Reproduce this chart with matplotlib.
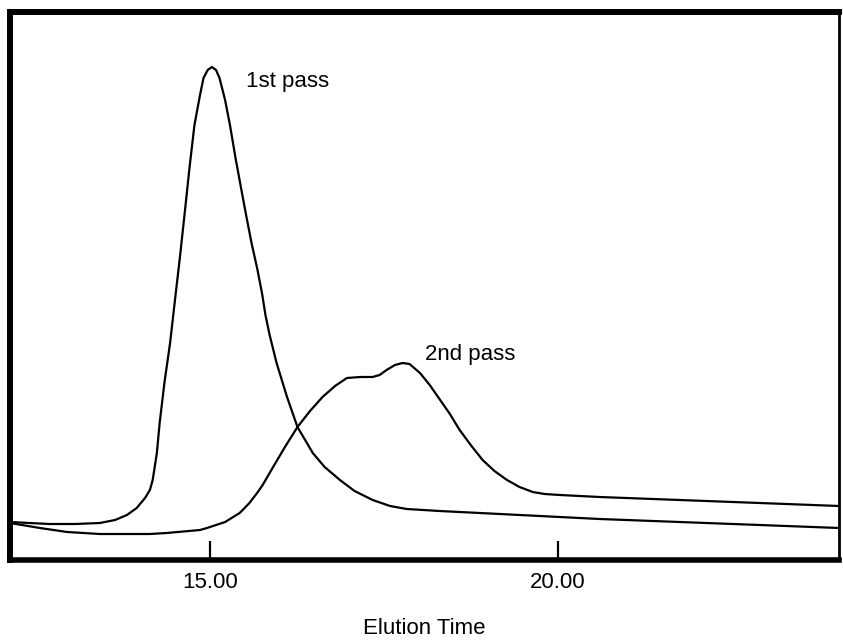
import matplotlib
matplotlib.use("Agg")
import matplotlib.pyplot as plt

plt.rcParams['font.family'] = ['Liberation Sans', 'DejaVu Sans']

# Elution time (min) and detector response (arbitrary units)
first_time = [12.13, 12.41, 12.70, 13.06, 13.42, 13.64, 13.81, 13.95, 14.07, 14.14,
              14.18, 14.24, 14.28, 14.35, 14.43, 14.50, 14.57, 14.64, 14.71, 14.78,
              14.86, 14.91, 14.97, 15.03, 15.09, 15.14, 15.22, 15.29, 15.37, 15.46,
              15.53, 15.60, 15.68, 15.75, 15.80, 15.86, 15.96, 16.11, 16.26, 16.48,
              16.65, 16.87, 17.08, 17.34, 17.59, 17.83, 18.30, 18.88, 19.74, 20.60,
              21.75, 22.90, 24.04]
first_signal = [38, 37, 36, 36, 37, 40, 45, 52, 62, 70,
                80, 107, 137, 178, 217, 260, 302, 347, 393, 435,
                465, 482, 490, 493, 490, 482, 460, 435, 402, 368,
                342, 317, 292, 267, 245, 225, 197, 163, 133, 107,
                93, 80, 69, 60, 54, 51, 49, 47, 44, 41,
                38, 35, 32]

second_time = [12.13, 12.56, 12.95, 13.42, 13.66, 14.14, 14.38, 14.86, 14.96, 15.22,
               15.43, 15.57, 15.68, 15.76, 15.91, 16.08, 16.26, 16.44, 16.62, 16.80,
               16.97, 17.16, 17.34, 17.44, 17.54, 17.66, 17.77, 17.87, 18.02, 18.16,
               18.30, 18.45, 18.59, 18.76, 18.92, 19.09, 19.27, 19.45, 19.64, 19.81,
               20.03, 20.60, 21.75, 22.90, 24.04]
second_signal = [37, 32, 28, 26, 26, 26, 27, 30, 32, 38,
                 47, 57, 67, 75, 93, 113, 133, 149, 163, 174,
                 182, 183, 183, 185, 190, 195, 197, 196, 187, 175,
                 161, 146, 130, 114, 100, 89, 80, 73, 68, 66,
                 65, 63, 60, 57, 54]

tick_positions = [15.0, 20.0]
tick_labels = ["15.00", "20.00"]
label_first = "1st pass"
label_second = "2nd pass"
x_title = "Elution Time"

fig = plt.figure(figsize=(8.43, 6.42), dpi=100)
ax = fig.add_axes([10/843, 1 - 560/642, 829/843, 548/642])

ax.plot(first_time, first_signal, color='black', lw=1.6, solid_joinstyle='round')
ax.plot(second_time, second_signal, color='black', lw=1.6, solid_joinstyle='round')

ax.set_xlim(12.13, 24.04)
ax.set_ylim(0, 548)

ax.set_xticks(tick_positions)
ax.set_xticklabels(tick_labels, fontsize=16)
ax.tick_params(axis='x', direction='in', length=14, width=1.6, pad=9, colors='black')
ax.set_yticks([])

for side in ['left', 'top']:
    ax.spines[side].set_linewidth(4.3)
ax.spines['bottom'].set_linewidth(4.0)
ax.spines['right'].set_linewidth(2.0)

ax.text(15.52, 473, label_first, fontsize=16, va='baseline', ha='left')
ax.text(18.09, 200, label_second, fontsize=16, va='baseline', ha='left')

ax.set_xlabel(x_title, fontsize=16, labelpad=18)

fig.savefig("out.png", dpi=100)
